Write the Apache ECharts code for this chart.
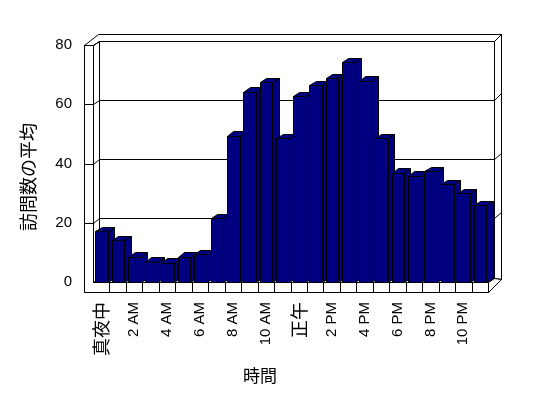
<!DOCTYPE html>
<html><head><meta charset="utf-8">
<script src="https://cdn.jsdelivr.net/npm/echarts@6/dist/echarts.min.js"></script>
<style>html,body{margin:0;padding:0;background:#fff}#c{width:548px;height:398px}</style>
</head><body><div id="c"></div>
<script>
const categories = ['真夜中','1 AM','2 AM','3 AM','4 AM','5 AM','6 AM','7 AM','8 AM','9 AM','10 AM','11 AM','正午','1 PM','2 PM','3 PM','4 PM','5 PM','6 PM','7 PM','8 PM','9 PM','10 PM','11 PM'];
const visits = [17.1,14.1,8.6,6.9,6.5,8.6,9.3,21.5,49.4,64.3,67.5,48.5,62.7,66.4,68.7,74.2,68.0,48.5,36.9,35.9,37.3,33.0,30.0,25.9];
const yTicks = [0,20,40,60,80];
const yTitle = '訪問数の平均';
const xTitle = '時間';

const DEPTH = [6.3, -4.5];
const WALL = 9, FLOOR = 10, RIM = 6.5;
const BAR_COLOR = '#000080';
const p = v => Math.round(v) + 0.5;
const pt = (x, y) => [p(x), p(y)];

function frameItem(params, api) {
  const n = categories.length;
  const w = api.size([1, 0])[0];
  const xL = api.coord([0, 0])[0] - w / 2;
  const xR = api.coord([n - 1, 0])[0] + w / 2;
  const y0 = api.coord([0, yTicks[0]])[1];
  const yT = api.coord([0, yTicks[yTicks.length - 1]])[1];
  const dx = DEPTH[0], dy = DEPTH[1];
  const bxL = xL + dx, bxR = xR + dx, byT = yT + dy, by0 = y0 + dy;
  const fillSt = {fill: '#fff', stroke: '#000', lineWidth: 1};
  const lnSt = {fill: null, stroke: '#000', lineWidth: 1};
  const ch = [];
  // outer silhouette
  ch.push({type: 'polygon', shape: {points: [
    pt(xL - WALL, yT), pt(bxL - 1, byT - RIM), pt(bxR + RIM, byT - RIM),
    pt(bxR + RIM, by0 + 1), pt(xR, y0 + FLOOR), pt(xL - WALL, y0 + FLOOR)]}, style: fillSt});
  // back wall face
  ch.push({type: 'polygon', shape: {points: [pt(bxL, byT), pt(bxR, byT), pt(bxR, by0), pt(bxL, by0)]}, style: fillSt});
  // right rim of back wall
  ch.push({type: 'polygon', shape: {points: [pt(bxR, byT), pt(bxR + RIM, byT - RIM), pt(bxR + RIM, by0 + 1), pt(bxR, by0)]}, style: fillSt});
  // left wall inner face
  ch.push({type: 'polygon', shape: {points: [pt(xL, yT), pt(bxL, byT), pt(bxL, by0), pt(xL, y0)]}, style: fillSt});
  // floor top
  ch.push({type: 'polygon', shape: {points: [pt(xL, y0), pt(bxL, by0), pt(bxR, by0), pt(xR, y0)]}, style: fillSt});
  // floor right side
  ch.push({type: 'polygon', shape: {points: [pt(xR, y0), pt(bxR, by0), pt(bxR + RIM, by0 + 1), pt(xR, y0 + FLOOR)]}, style: fillSt});
  // left wall front + floor front (L shape)
  ch.push({type: 'polygon', shape: {points: [
    pt(xL - WALL, yT), pt(xL, yT), pt(xL, y0), pt(xR, y0), pt(xR, y0 + FLOOR), pt(xL - WALL, y0 + FLOOR)]}, style: fillSt});
  // gridlines
  yTicks.slice(1).forEach(v => {
    const y = api.coord([0, v])[1];
    ch.push({type: 'polyline', shape: {points: [
      pt(xL - WALL, y), pt(xL, y), pt(bxL, y + dy), pt(bxR, y + dy), pt(bxR + RIM, y + dy - RIM)]}, style: lnSt});
  });
  // floor category ticks
  for (let k = 1; k < n; k++) {
    const x = xL + k * w;
    ch.push({type: 'line', shape: {x1: p(x), y1: p(y0), x2: p(x), y2: p(y0 + FLOOR)}, style: lnSt});
  }
  return {type: 'group', children: ch};
}

function barItem(params, api) {
  const i = api.value(0), v = api.value(1);
  const w = api.size([1, 0])[0];
  const c = api.coord([i, v]);
  const b = api.coord([i, 0]);
  const x0 = c[0] - 0.36 * w, x1 = x0 + 0.766 * w;
  const yt = c[1], yb = b[1];
  const dx = DEPTH[0], dy = DEPTH[1];
  const st = {fill: BAR_COLOR, stroke: '#000', lineWidth: 1};
  return {type: 'group', children: [
    {type: 'polygon', shape: {points: [pt(x1, yt), pt(x1 + dx, yt + dy), pt(x1 + dx, yb + dy), pt(x1, yb)]}, style: st},
    {type: 'polygon', shape: {points: [pt(x0, yt), pt(x0 + dx, yt + dy), pt(x1 + dx, yt + dy), pt(x1, yt)]}, style: st},
    {type: 'polygon', shape: {points: [pt(x0, yt), pt(x1, yt), pt(x1, yb), pt(x0, yb)]}, style: st}
  ]};
}

const chart = echarts.init(document.getElementById('c'), null, {renderer: 'canvas'});
chart.setOption({
  backgroundColor: '#fff',
  animation: false,
  grid: {left: 93, top: 45, width: 395, height: 237},
  xAxis: {
    type: 'category', data: categories,
    axisLine: {show: false}, axisTick: {show: false}, splitLine: {show: false},
    axisLabel: {
      interval: 1, rotate: 90, margin: 20, color: '#000',
      fontSize: 15, fontFamily: 'Liberation Sans',
      formatter: v => /[^\x00-\x7f]/.test(v) ? '{c|' + v + '}' : v,
      rich: {c: {fontSize: 18, fontFamily: 'Noto Sans CJK JP', color: '#000'}}
    }
  },
  yAxis: {
    type: 'value', min: yTicks[0], max: yTicks[yTicks.length - 1], interval: 20,
    axisLine: {show: false}, axisTick: {show: false}, splitLine: {show: false},
    axisLabel: {margin: 21, color: '#000', fontSize: 15, fontFamily: 'Liberation Sans'}
  },
  graphic: [
    {type: 'text', x: 28, y: 177, rotation: Math.PI / 2,
     style: {text: yTitle, fontSize: 18, fontFamily: 'Noto Sans CJK JP', fill: '#000', align: 'center', verticalAlign: 'middle'}},
    {type: 'text', x: 260, y: 376,
     style: {text: xTitle, fontSize: 17, fontFamily: 'Noto Sans CJK JP', fill: '#000', align: 'center', verticalAlign: 'middle'}}
  ],
  series: [
    {type: 'custom', z: 1, silent: true, renderItem: frameItem, data: [[0, 0]], encode: {x: 0, y: 1}},
    {type: 'custom', z: 2, renderItem: barItem, data: categories.map((c, i) => [i, visits[i]]), encode: {x: 0, y: 1}}
  ]
});
</script></body></html>
